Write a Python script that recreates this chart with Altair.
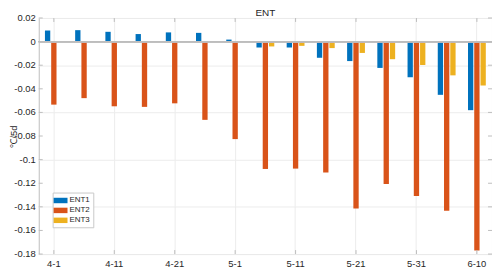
import altair as alt
import pandas as pd

dates = ["4-1", "4-6", "4-11", "4-16", "4-21", "4-26", "5-1", "5-6",
         "5-11", "5-16", "5-21", "5-26", "5-31", "6-5", "6-10"]
series = ["ENT1", "ENT2", "ENT3"]
ent1 = [0.0094, 0.0097, 0.0083, 0.0064, 0.0078, 0.0074, 0.0017, -0.0050,
        -0.0050, -0.0137, -0.0165, -0.0223, -0.0302, -0.0451, -0.0581]
ent2 = [-0.0534, -0.0479, -0.0548, -0.0553, -0.0523, -0.0663, -0.0826, -0.1079,
        -0.1076, -0.1110, -0.1415, -0.1206, -0.1308, -0.1434, -0.1770]
ent3 = [-0.0003, -0.0004, -0.0003, 0.0005, 0.0005, -0.0003, -0.0003, -0.0041,
        -0.0036, -0.0055, -0.0096, -0.0149, -0.0198, -0.0286, -0.0372]
x_tick_labels = ["4-1", "4-11", "4-21", "5-1", "5-11", "5-21", "5-31", "6-10"]
y_ticks = [0.02, 0.0, -0.02, -0.04, -0.06, -0.08, -0.1, -0.12, -0.14, -0.16, -0.18]
y_tick_labels = ["0.02", "0", "-0.02", "-0.04", "-0.06", "-0.08", "-0.1", "-0.12",
                 "-0.14", "-0.16", "-0.18"]
colors = ["#0072BD", "#D95319", "#EDB120"]

rows = []
for name, vals in zip(series, [ent1, ent2, ent3]):
    for d, v in zip(dates, vals):
        rows.append({"date": d, "series": name, "value": v})
df = pd.DataFrame(rows)
xt = pd.DataFrame({"date": x_tick_labels})
yt = pd.DataFrame({"value": y_ticks, "label": y_tick_labels})

W, H = 457, 238
FONT = "Liberation Sans"
BOX = "#bdbdbd"
TXT = "#262626"

x_scale = alt.Scale(domain=dates, paddingInner=0.41, paddingOuter=0.205)
y_scale = alt.Scale(domain=[-0.18, 0.02], nice=False, zero=False)

x_axis = alt.Axis(values=x_tick_labels, title=None, labelAngle=0, tickSize=0,
                  domain=False, grid=True, gridColor="#ececec", bandPosition=0.5,
                  labelFontSize=9.5, labelPadding=5, labelColor=TXT, labelFont=FONT,
                  labelOverlap=False)
y_axis = alt.Axis(values=y_ticks, labels=False, title="℃/5d",
                  titleFont=FONT, titleFontSize=9.5, titleFontWeight="normal",
                  titleColor=TXT, titleX=-25, titleY=H / 2, titleBaseline="middle",
                  titleAlign="center", titleAngle=270,
                  grid=True, gridColor="#ececec", tickSize=0, domain=False)

bars = alt.Chart(df).mark_bar().encode(
    x=alt.X("date:N", scale=x_scale, sort=dates, axis=x_axis),
    xOffset=alt.XOffset("series:N", sort=series, scale=alt.Scale(paddingInner=0.15)),
    y=alt.Y("value:Q", scale=y_scale, axis=y_axis),
    y2=alt.datum(0),
    color=alt.Color("series:N", sort=series,
                    scale=alt.Scale(domain=series, range=colors),
                    legend=alt.Legend(orient="none", legendX=14, legendY=176, title=None,
                                      symbolType="M-1.4,-0.55H1.4V0.55H-1.4Z",
                                      symbolSize=100, symbolStrokeWidth=0,
                                      labelFontSize=8, labelFont=FONT,
                                      labelColor=TXT, padding=3, rowPadding=1,
                                      labelOffset=4, strokeColor="#c8c8c8",
                                      fillColor="white")),
)

zero = alt.Chart(df).mark_rule(color=BOX, strokeWidth=1).encode(y=alt.datum(0))

ylab = alt.Chart(yt).mark_text(align="right", baseline="middle", font=FONT,
                               fontSize=9.5, color=TXT).encode(
    y=alt.Y("value:Q"), x=alt.value(-3), text="label:N")

xb = alt.Chart(xt).mark_rule(color=BOX).encode(
    x=alt.X("date:N", sort=dates), y=alt.value(H), y2=alt.value(H - 4))
xtop = alt.Chart(xt).mark_rule(color=BOX).encode(
    x=alt.X("date:N", sort=dates), y=alt.value(0), y2=alt.value(4))
yl = alt.Chart(yt).mark_rule(color=BOX).encode(
    y=alt.Y("value:Q"), x=alt.value(0), x2=alt.value(4))
yr = alt.Chart(yt).mark_rule(color=BOX).encode(
    y=alt.Y("value:Q"), x=alt.value(W - 4), x2=alt.value(W))

chart = alt.layer(bars, zero, xb, xtop, yl, yr, ylab).properties(
    width=W, height=H,
    title=alt.TitleParams("ENT", fontSize=10, fontWeight="normal", font=FONT,
                          color=TXT, offset=-5, anchor="middle"),
    padding={"left": 31, "top": 9, "right": 0, "bottom": 15},
    autosize="none",
).configure_view(stroke=BOX, strokeWidth=1)

chart.save("out.html", embed_options={"renderer": "svg", "actions": False})
